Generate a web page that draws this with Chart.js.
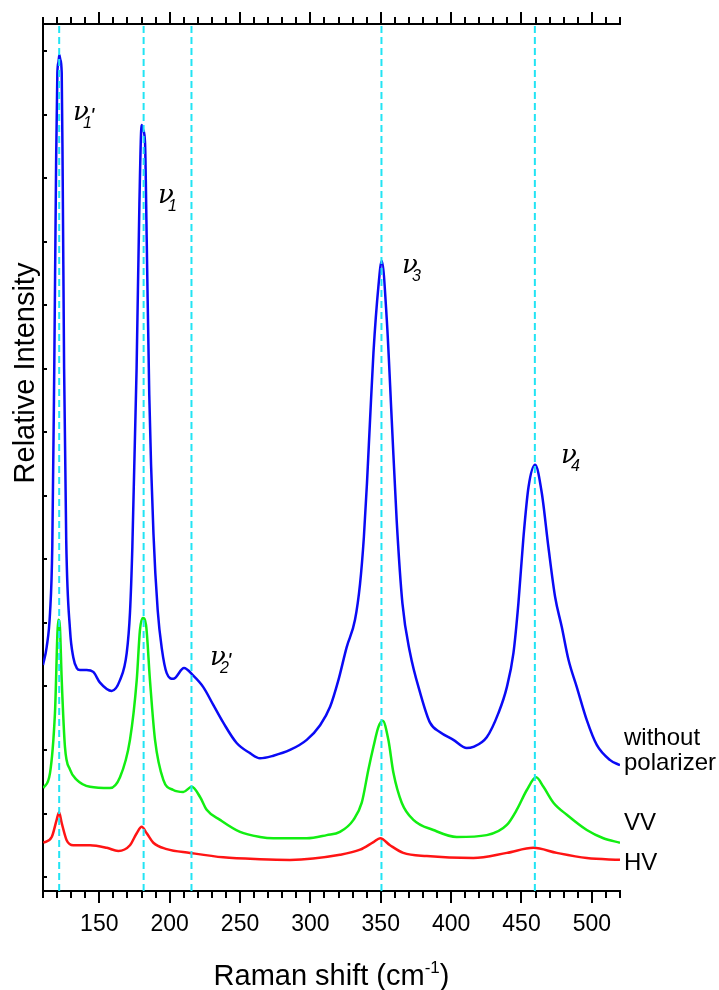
<!DOCTYPE html>
<html><head><meta charset="utf-8">
<script src="https://cdn.jsdelivr.net/npm/chart.js@4.4.0/dist/chart.umd.min.js"></script>
<style>html,body{margin:0;padding:0;background:#fff;}</style>
</head><body>
<canvas id="c" width="719" height="990"></canvas>
<script>
// ---- data (Raman shift in cm^-1, intensity in arbitrary units) ----
const shiftNoPol = [110,112.6,115,116.6,118.0,119.3,120.2,121.0,121.6,122.3,123.3,124.0,125.0,126.5,129.2,131.5,134,136.3,141,145.7,150.5,158.8,164.7,169.5,171.8,173.5,176.5,178.5,180.1,181.2,182.5,183.7,185.5,188.5,191.5,194.4,197.9,202.6,210.2,216.8,223.9,231,238.1,247.6,257.1,264.2,273.7,285.5,297.4,306.9,314,319.9,325.8,331.7,335.3,338.0,340.2,342.4,344.8,348.3,350.7,354.3,357.8,361.3,365.4,370.8,378,385,392.2,401.6,411.1,415.8,425.3,433.6,439.6,444.3,447.8,451.4,455,459.7,464.4,469.1,473.9,478.6,483.4,489.3,496.4,503.5,513,520];
const intNoPol = [3.34,3.62,4.16,5.2,8.0,11.2,12.66,12.83,12.94,12.87,12.66,11.0,8.0,5.3,3.89,3.46,3.29,3.26,3.26,3.23,3.06,2.93,3.10,3.53,4.16,5.2,8.0,10.6,11.84,11.76,11.56,10.03,7.6,5.4,4.2,3.6,3.21,3.12,3.29,3.17,2.99,2.71,2.43,2.11,1.95,1.87,1.91,2.00,2.16,2.39,2.68,3.10,3.62,4.05,4.62,5.35,6.20,7.20,8.25,9.29,9.70,8.77,7.20,5.62,4.31,3.53,2.90,2.43,2.28,2.16,2.03,2.05,2.20,2.58,2.99,3.53,4.31,5.35,6.14,6.49,6.05,5.20,4.41,3.94,3.42,2.99,2.47,2.08,1.84,1.76];

const shiftVV = [110.2,115,118.5,120.9,122,123.3,125.6,129.2,134,143.4,157.6,164.7,171.8,176.6,178.9,180.9,183.2,186,189.6,195.5,202.6,209.7,215.7,221.6,226.3,235.8,250,264.2,273.7,297.4,311.6,321,330.6,336.5,341.2,344.8,348.3,351.4,355.4,359,364.9,373.2,387.4,404,425.3,439.6,446.7,453.8,460.4,465.6,472.7,482.2,496.4,508.2,520];
const intVV = [1.40,1.64,2.58,4.05,3.94,3.10,2.05,1.69,1.53,1.42,1.40,1.57,2.16,3.10,3.89,4.08,3.97,3.10,2.16,1.53,1.37,1.34,1.42,1.26,1.06,0.90,0.71,0.63,0.61,0.61,0.66,0.71,0.90,1.17,1.69,2.05,2.36,2.46,2.16,1.64,1.17,0.90,0.74,0.63,0.66,0.82,1.06,1.37,1.57,1.42,1.17,0.98,0.74,0.61,0.54];

const shiftHV = [110.2,116.2,119.7,121.4,123.3,126.8,131.5,143.4,155.3,163.5,171.8,176.6,180.1,183.7,188.4,197.9,214.5,238.1,264.2,285.5,321,335.3,344.8,349.6,356.6,366,382.7,415.8,439.6,458.5,475.1,496.4,520];
const intHV = [0.54,0.63,0.90,1.02,0.85,0.58,0.50,0.50,0.46,0.41,0.50,0.69,0.79,0.69,0.54,0.44,0.38,0.31,0.28,0.27,0.35,0.43,0.55,0.61,0.50,0.38,0.33,0.30,0.38,0.46,0.38,0.30,0.27];

const peakPositions = [121.5, 181.5, 215.5, 350.5, 459.5];

const xTickValues = [150,200,250,300,350,400,450,500];
const xTickLabels = ['150','200','250','300','350','400','450','500'];
const xMinorValues = [110,120,130,140,160,170,180,190,210,220,230,240,260,270,280,290,310,320,330,340,360,370,380,390,410,420,430,440,460,470,480,490,510,520];
const yTickValues = [0,1,2,3,4,5,6,7,8,9,10,11,12,13];

const seriesNames = ['without polarizer','VV','HV'];

// peak annotations: subscript, prime, anchor (shift, intensity)
const peakLabelSub = ['1','1','2','3','4'];
const peakLabelPrime = [true,false,true,false,false];
const peakLabelX = [131.3,191.7,228.7,365.1,478.1];
const peakLabelY = [11.92,10.61,3.34,9.51,6.52];

// right-hand series labels: lines and anchor intensities
const seriesLabelLines = ['without','polarizer','VV','HV'];
const seriesLabelY = [2.08,1.68,0.74,0.11];

const xTitle = 'Raman shift (cm';
const xTitleSup = '-1';
const yTitle = 'Relative Intensity';

// ---- chart ----
const Y_MIN = -0.22, Y_MAX = 13.43;
const pts = (xs, ys) => xs.map((x,i)=>({x:x, y:ys[i]}));
const SANS = '"Liberation Sans", Arial, sans-serif';

const dashSets = peakPositions.map(p => ({
  data:[{x:p,y:Y_MIN},{x:p,y:Y_MAX}],
  borderColor:'#22e4f4', borderWidth:2, borderDash:[7,4], pointRadius:0, fill:false
}));

const decor = {
  id:'decor',
  afterDraw(chart){
    const ctx = chart.ctx, xs = chart.scales.x, ys = chart.scales.y, a = chart.chartArea;
    ctx.save();
    ctx.strokeStyle = '#000'; ctx.lineWidth = 2;
    const all = xMinorValues.concat(xTickValues);
    all.forEach(v=>{
      const px = Math.round(xs.getPixelForValue(v));
      const len = xTickValues.includes(v) ? 12 : 7;
      ctx.beginPath(); ctx.moveTo(px, a.bottom); ctx.lineTo(px, a.bottom+len); ctx.stroke();
      ctx.beginPath(); ctx.moveTo(px, a.top); ctx.lineTo(px, a.top-len); ctx.stroke();
    });
    yTickValues.forEach(v=>{
      const py = Math.round(ys.getPixelForValue(v));
      ctx.beginPath(); ctx.moveTo(a.left, py); ctx.lineTo(a.left+4, py); ctx.stroke();
    });
    // series labels
    ctx.fillStyle = '#000';
    ctx.font = '24px ' + SANS;
    ctx.textAlign = 'left'; ctx.textBaseline = 'alphabetic';
    seriesLabelLines.forEach((t,i)=>{
      ctx.fillText(t, a.right+4, ys.getPixelForValue(seriesLabelY[i]));
    });
    // peak labels
    peakLabelSub.forEach((s,i)=>{
      const px = xs.getPixelForValue(peakLabelX[i]);
      const py = ys.getPixelForValue(peakLabelY[i]);
      ctx.font = 'italic 26px "DejaVu Serif", "Liberation Serif", serif';
      ctx.fillText('\u03BD', px, py);
      ctx.font = 'italic 16px ' + SANS;
      ctx.fillText(s, px+10, py+8);
      if (peakLabelPrime[i]) {
        ctx.font = 'italic 22px ' + SANS;
        ctx.fillText("'", px+17, py+3);
      }
    });
    // axis titles
    ctx.font = '29px ' + SANS;
    ctx.save();
    ctx.translate(34, 373);
    ctx.rotate(-Math.PI/2);
    ctx.textAlign = 'center';
    ctx.fillText(yTitle, 0, 0);
    ctx.restore();
    const w1 = ctx.measureText(xTitle).width;
    ctx.font = '17px ' + SANS;
    const w2 = ctx.measureText(xTitleSup).width;
    ctx.font = '29px ' + SANS;
    const w3 = ctx.measureText(')').width;
    const total = w1+w2+w3;
    let sx = (a.left+a.right)/2 - total/2;
    const by = 985;
    ctx.textAlign = 'left';
    ctx.fillText(xTitle, sx, by);
    ctx.font = '17px ' + SANS;
    ctx.fillText(xTitleSup, sx+w1, by-12);
    ctx.font = '29px ' + SANS;
    ctx.fillText(')', sx+w1+w2, by);
    ctx.restore();
  }
};

new Chart(document.getElementById('c'), {
  type:'line',
  data:{
    datasets: dashSets.concat([
      {label:seriesNames[0], data:pts(shiftNoPol,intNoPol), borderColor:'#0a0af5', borderWidth:2.5, pointRadius:0, cubicInterpolationMode:'monotone', fill:false},
      {label:seriesNames[1], data:pts(shiftVV,intVV), borderColor:'#12ee12', borderWidth:2.5, pointRadius:0, cubicInterpolationMode:'monotone', fill:false},
      {label:seriesNames[2], data:pts(shiftHV,intHV), borderColor:'#ff1414', borderWidth:2.5, pointRadius:0, cubicInterpolationMode:'monotone', fill:false}
    ])
  },
  options:{
    responsive:false, animation:false, devicePixelRatio:1,
    layout:{padding:{left:0, right:99, top:0, bottom:0}},
    plugins:{legend:{display:false}, tooltip:{enabled:false}},
    scales:{
      x:{type:'linear', position:'bottom', min:110, max:520,
         afterBuildTicks:s=>{s.ticks = xTickValues.map(v=>({value:v}));},
         afterFit:s=>{s.height = 99;},
         ticks:{callback:(v)=>xTickLabels[xTickValues.indexOf(v)], font:{family:SANS, size:23}, color:'#000', padding:20, maxRotation:0, autoSkip:false},
         grid:{drawOnChartArea:false, drawTicks:false},
         border:{color:'#000', width:2}},
      x2:{type:'linear', position:'top', min:110, max:520,
         afterFit:s=>{s.height = 24;},
         ticks:{display:false}, grid:{drawOnChartArea:false, drawTicks:false},
         border:{color:'#000', width:2}},
      y:{type:'linear', min:Y_MIN, max:Y_MAX,
         afterBuildTicks:s=>{s.ticks = yTickValues.map(v=>({value:v}));},
         afterFit:s=>{s.width = 43;},
         ticks:{display:false}, grid:{drawOnChartArea:false, drawTicks:false},
         border:{color:'#000', width:2}}
    }
  },
  plugins:[decor]
});
</script>
</body></html>
